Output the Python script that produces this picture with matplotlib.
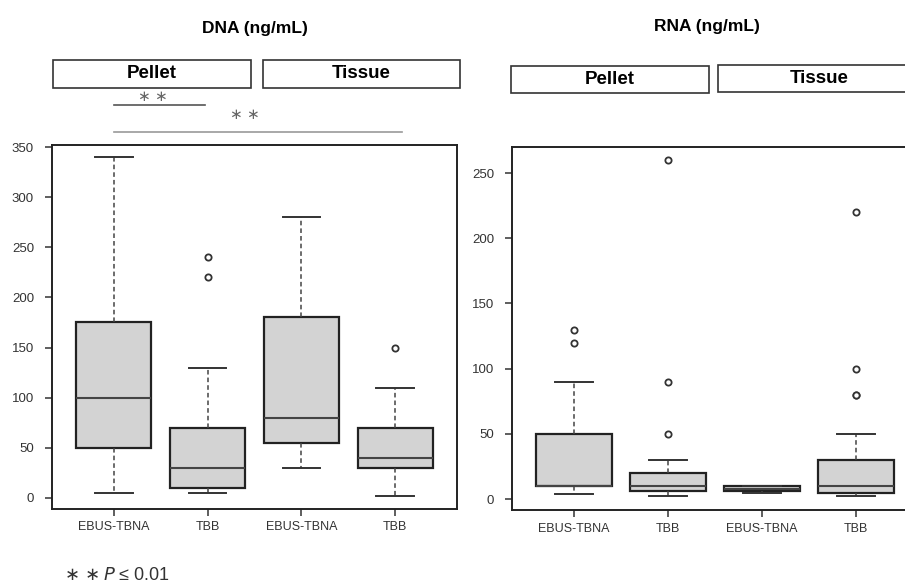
import numpy as np
import matplotlib.pyplot as plt
from matplotlib.patches import Rectangle

plt.rcParams['font.family'] = ['Liberation Sans', 'DejaVu Sans']

grupos = ["EBUS-TBNA", "TBB", "EBUS-TBNA", "TBB"]

# DNA (ng/mL): Pellet EBUS-TBNA, Pellet TBB, Tissue EBUS-TBNA, Tissue TBB
dna_whislo = [5, 5, 30, 2]
dna_q1 = [50, 10, 55, 30]
dna_med = [100, 30, 80, 40]
dna_q3 = [175, 70, 180, 70]
dna_whishi = [340, 130, 280, 110]
dna_fliers = [[], [220, 240], [], [150]]

# RNA (ng/mL)
rna_whislo = [4, 2, 4.5, 2]
rna_q1 = [10, 6, 6.5, 5]
rna_med = [10, 10, 8, 10]
rna_q3 = [50, 20, 10, 30]
rna_whishi = [90, 30, 10, 50]
rna_fliers = [[120, 130], [50, 90, 260], [], [80, 80, 100, 220]]

W, H = 905, 586
fig = plt.figure(figsize=(W / 100, H / 100), dpi=100)


def px_axes(l, t, r, b):
    return fig.add_axes([l / W, 1 - b / H, (r - l) / W, (b - t) / H])


def build_stats(lo, q1, med, q3, hi, fl):
    return [dict(whislo=a, q1=b, med=c, q3=d, whishi=e, fliers=f, label=g)
            for a, b, c, d, e, f, g in zip(lo, q1, med, q3, hi, fl, grupos)]


def draw_panel(ax, stats, yticks, ylim):
    ax.bxp(stats, positions=[1, 2, 3, 4], widths=0.8, patch_artist=True,
           boxprops=dict(facecolor="#d3d3d3", edgecolor="#222222", linewidth=1.6),
           medianprops=dict(color="#444444", linewidth=1.5),
           whiskerprops=dict(color="#444444", linewidth=1.1, linestyle=(0, (3, 2))),
           capprops=dict(color="#333333", linewidth=1.4),
           capwidths=0.4,
           flierprops=dict(marker="o", markersize=4.5, markerfacecolor="white",
                           markeredgecolor="#333333", markeredgewidth=1.3))
    ax.set_xlim(0.34, 4.66)
    ax.set_ylim(*ylim)
    ax.set_yticks(yticks)
    ax.set_xticks([1, 2, 3, 4])
    ax.set_xticklabels(grupos)
    for s in ax.spines.values():
        s.set_linewidth(1.4)
        s.set_color("#222222")
    ax.tick_params(axis="both", labelsize=9.5, length=5, width=1.1, color="#333333",
                   labelcolor="#333333")
    ax.tick_params(axis="y", pad=8)
    ax.tick_params(axis="x", labelsize=9, pad=4)


# Panel DNA
ax1 = px_axes(52, 145, 457, 509)
draw_panel(ax1, build_stats(dna_whislo, dna_q1, dna_med, dna_q3, dna_whishi, dna_fliers),
           np.arange(0, 351, 50), (-11, 352))

# Panel RNA (cortado a la derecha, como en la figura original)
ax2 = px_axes(512, 147, 918, 510)
draw_panel(ax2, build_stats(rna_whislo, rna_q1, rna_med, rna_q3, rna_whishi, rna_fliers),
           np.arange(0, 251, 50), (-8.4, 270))

# Titulos
fig.text(255 / W, 1 - 28 / H, "DNA (ng/mL)", ha="center", va="center",
         fontsize=12.5, fontweight="bold")
fig.text(707 / W, 1 - 26 / H, "RNA (ng/mL)", ha="center", va="center",
         fontsize=12.5, fontweight="bold")

# Cajas de Pellet / Tissue
strips = [
    (53, 60, 251, 88, "Pellet"),
    (263, 60, 460, 88, "Tissue"),
    (511, 66, 709, 93, "Pellet"),
    (718, 65, 920, 92, "Tissue"),
]
for l, t, r, b, txt in strips:
    fig.patches.append(Rectangle((l / W, 1 - b / H), (r - l) / W, (b - t) / H,
                                 transform=fig.transFigure, facecolor="white",
                                 edgecolor="#333333", linewidth=1.2))
    fig.text((l + r) / 2 / W, 1 - (t + b) / 2 / H, txt, ha="center", va="center",
             fontsize=13.5, fontweight="bold")

# Lineas de significancia
ax1.plot([1, 1.97], [392, 392], color="#555555", linewidth=1.2, clip_on=False)
ax1.text(1.42, 400, "∗ ∗", ha="center", va="center", fontsize=11, color="#666666")
ax1.plot([1, 4.07], [365, 365], color="#999999", linewidth=1.2, clip_on=False)
ax1.text(2.4, 382, "∗ ∗", ha="center", va="center", fontsize=11, color="#666666")

# Nota al pie
fig.text(65 / W, 1 - 575 / H, "∗ ∗", ha="left", va="center", fontsize=13, color="#333333")
fig.text(103 / W, 1 - 575 / H, "$\\it{P}$ ≤ 0.01", ha="left", va="center", fontsize=13,
         color="#333333")

fig.savefig("out.png", dpi=100)
